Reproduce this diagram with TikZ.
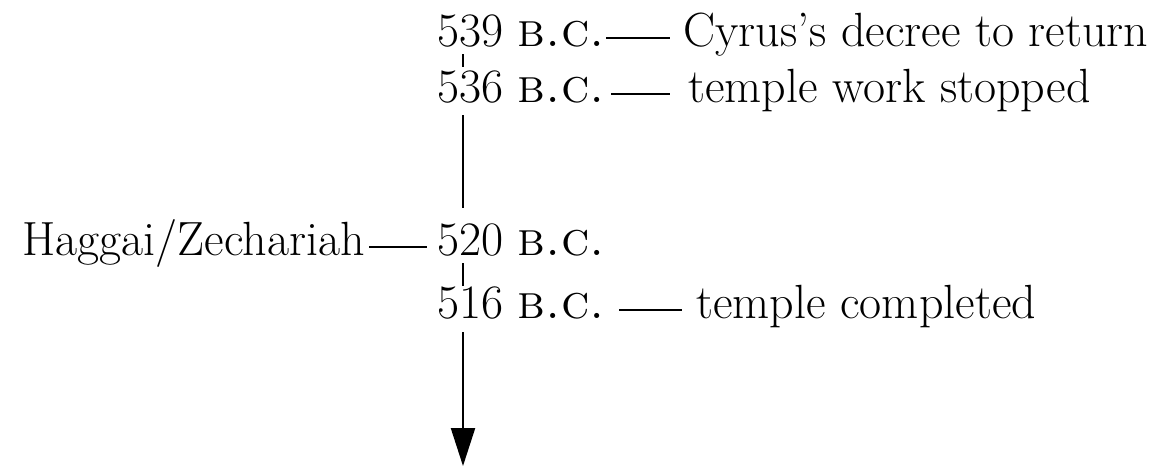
\documentclass[tikz,border=0pt]{standalone}
\usetikzlibrary{arrows.meta,calc}
\begin{document}
\begin{tikzpicture}[x=0.5pt,y=-0.5pt,
  txt/.style={inner sep=0pt,font=\fontsize{24}{28}\selectfont},
  date/.style={txt,anchor=base west},
  event/.style={txt,anchor=base west},
  rule/.style={line width=1.2pt},
  axis/.style={line width=1.1pt}]
\useasboundingbox (0,0) rectangle (1156,468);

% dates along the time axis
\node[date] (d539) at (437,46)  {539 \textsc{b.c.}};
\node[date] (d536) at (437,102) {536 \textsc{b.c.}};
\node[date] (d520) at (437,255) {520 \textsc{b.c.}};
\node[date] (d516) at (437,318) {516 \textsc{b.c.}};

% events beside the dates
\node[event] (e539) at (683,46)  {Cyrus's decree to return};
\node[event] (e536) at (688,102) {temple work stopped};
\node[txt,anchor=base east] (e520) at (365,255) {Haggai/Zechariah};
\node[event] (e516) at (696,318) {temple completed};

% dashes joining dates and events
\draw[rule] ($(d539.base east)+(1,-8)$) -- ($(e539.base west)+(-13,-8)$);
\draw[rule] ($(d536.base east)+(6,-8)$) -- ($(e536.base west)+(-18,-8)$);
\draw[rule] ($(e520.base east)+(4,-8)$) -- ($(d520.base west)+(-10,-8)$);
\draw[rule] ($(d516.base east)+(14,-8)$) -- ($(e516.base west)+(-14,-8)$);

% the time axis
\coordinate (a1) at (463,54);
\coordinate (a2) at (463,67);
\coordinate (a3) at (463,115);
\coordinate (a4) at (463,208);
\coordinate (a5) at (463,263);
\coordinate (a6) at (463,286);
\coordinate (a7) at (463,332);
\coordinate (a8) at (463,466);
\draw[axis] (a1) -- (a2);
\draw[axis] (a3) -- (a4);
\draw[axis] (a5) -- (a6);
\draw[axis,-{Triangle[length=19pt,width=12pt]}] (a7) -- (a8);
\end{tikzpicture}
\end{document}
